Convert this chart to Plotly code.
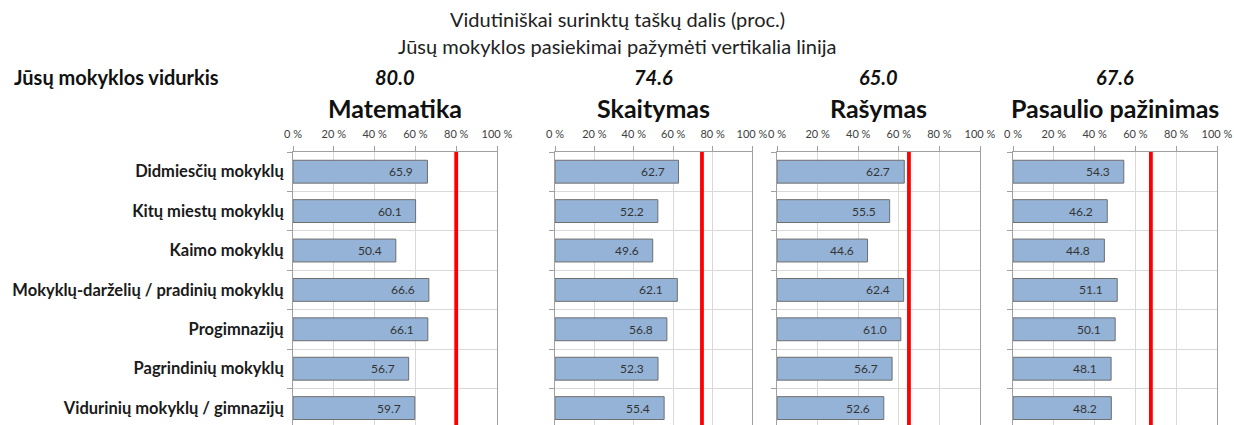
import plotly.graph_objects as go

categories = [
    "Didmiesčių mokyklų",
    "Kitų miestų mokyklų",
    "Kaimo mokyklų",
    "Mokyklų-darželių / pradinių mokyklų",
    "Progimnazijų",
    "Pagrindinių mokyklų",
    "Vidurinių mokyklų / gimnazijų",
]
subjects = ["Matematika", "Skaitymas", "Rašymas", "Pasaulio pažinimas"]
school_avg = [80.0, 74.6, 65.0, 67.6]

matematika = [65.9, 60.1, 50.4, 66.6, 66.1, 56.7, 59.7]
skaitymas = [62.7, 52.2, 49.6, 62.1, 56.8, 52.3, 55.4]
rasymas = [62.7, 55.5, 44.6, 62.4, 61.0, 56.7, 52.6]
pasaulio = [54.3, 46.2, 44.8, 51.1, 50.1, 48.1, 48.2]
series = [matematika, skaitymas, rasymas, pasaulio]

x_tick_vals = [0, 20, 40, 60, 80, 100]
x_tick_text = ["0 %", "20 %", "40 %", "60 %", "80 %", "100 %"]

title1 = "Vidutiniškai surinktų taškų dalis (proc.)"
title2 = "Jūsų mokyklos pasiekimai pažymėti vertikalia linija"
row_label = "Jūsų mokyklos vidurkis"

W, H = 1234, 425
FONT = "Lato"
px_domains = [(293, 497), (555, 752), (777, 980), (1013, 1217)]
plot_top_px = 152
ydom_top = (H - plot_top_px) / H
band_px = 39.4
n_bands_visible = (H - plot_top_px) / band_px

fig = go.Figure()
annotations = []
shapes = []
layout_axes = {}

for i, (subj, vals, avg) in enumerate(zip(subjects, series, school_avg)):
    sfx = "" if i == 0 else str(i + 1)
    xa, ya = "x" + sfx, "y" + sfx
    fig.add_trace(go.Bar(
        x=vals, y=categories, orientation="h", xaxis=xa, yaxis=ya,
        width=0.58,
        marker=dict(color="#95B3D7", line=dict(color="#6E6E6E", width=1)),
        hoverinfo="skip",
    ))
    x0, x1 = px_domains[i]
    layout_axes["xaxis" + sfx] = dict(
        domain=[x0 / W, x1 / W], anchor=ya, side="top", range=[0, 100],
        tickmode="array", tickvals=x_tick_vals, ticktext=x_tick_text,
        ticks="outside", ticklen=5, tickcolor="#A0A0A0", ticklabelstandoff=4,
        tickfont=dict(size=11, color="#404040", family=FONT),
        showgrid=True, gridcolor="#D9D9D9", gridwidth=1,
        showline=True, linecolor="#A0A0A0", linewidth=1, mirror=False,
        zeroline=False, automargin=False, fixedrange=True,
    )
    layout_axes["yaxis" + sfx] = dict(
        domain=[0, ydom_top], anchor=xa, type="category",
        categoryorder="array", categoryarray=categories,
        range=[n_bands_visible - 0.5, -0.5],
        tickson="boundaries", ticks="outside", ticklen=5, tickcolor="#A0A0A0",
        ticklabelstandoff=5,
        showticklabels=(i == 0),
        tickfont=dict(size=16.5, color="#1a1a1a", family=FONT, weight="bold"),
        showgrid=True, gridcolor="#D9D9D9", gridwidth=1,
        showline=True, linecolor="#A0A0A0", linewidth=1, mirror=True,
        zeroline=False, automargin=False, fixedrange=True,
    )
    shapes.append(dict(
        type="line", xref=xa, yref=ya + " domain", x0=avg, x1=avg, y0=0, y1=1,
        line=dict(color="#FF0000", width=3.8), layer="above",
    ))
    for c, v in zip(categories, vals):
        annotations.append(dict(
            x=v, y=c, xref=xa, yref=ya, text=f"{v:.1f}", showarrow=False,
            xanchor="right", xshift=-12,
            font=dict(size=12, color="#333333", family=FONT),
        ))
    cx = (x0 + x1) / 2 / W
    annotations.append(dict(
        x=cx, y=(H - 108) / H, xref="paper", yref="paper", text=f"<b>{subj}</b>",
        showarrow=False, xanchor="center", yanchor="middle",
        font=dict(size=25, color="#111111", family=FONT),
    ))
    annotations.append(dict(
        x=cx, y=(H - 77) / H, xref="paper", yref="paper", text=f"<b><i>{avg:.1f}</i></b>",
        showarrow=False, xanchor="center", yanchor="middle",
        font=dict(size=20, color="#111111", family=FONT),
    ))

annotations.append(dict(
    x=617 / W, y=(H - 19) / H, xref="paper", yref="paper", text=title1,
    showarrow=False, xanchor="center", yanchor="middle",
    font=dict(size=20, color="#222222", family=FONT),
))
annotations.append(dict(
    x=617 / W, y=(H - 46) / H, xref="paper", yref="paper", text=title2,
    showarrow=False, xanchor="center", yanchor="middle",
    font=dict(size=20, color="#222222", family=FONT),
))
annotations.append(dict(
    x=12 / W, y=(H - 77) / H, xref="paper", yref="paper", text=f"<b>{row_label}</b>",
    showarrow=False, xanchor="left", yanchor="middle",
    font=dict(size=20, color="#111111", family=FONT),
))

fig.update_layout(
    width=W, height=H, margin=dict(l=0, r=0, t=0, b=0),
    paper_bgcolor="white", plot_bgcolor="white", showlegend=False,
    font=dict(family=FONT), annotations=annotations, shapes=shapes,
    bargap=0.42, **layout_axes,
)
fig.write_html("out.html", config={"displayModeBar": False},
               post_script="document.body.style.margin='0px';")
